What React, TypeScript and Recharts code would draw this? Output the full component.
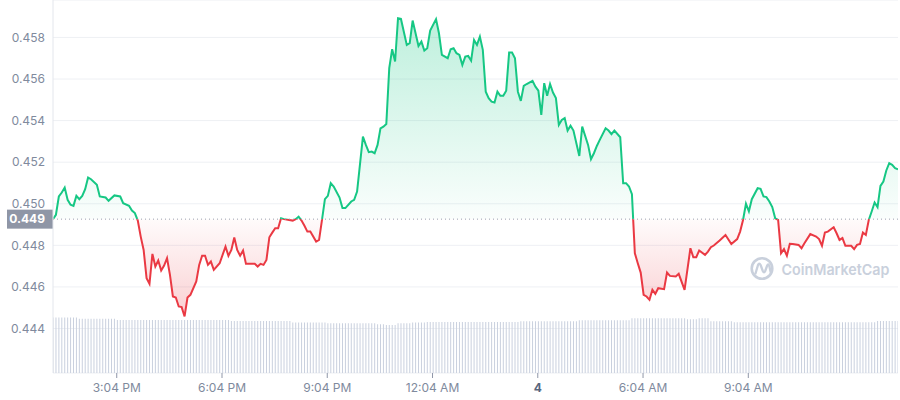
import React from 'react';
import { ComposedChart, Area, Line, Bar, XAxis, YAxis, CartesianGrid, ReferenceLine } from 'recharts';

// [minutes after 13:15 (day 3), price in USD]
const pricePoints: [number, number][] = [
  [0, 0.44926], [5, 0.44947], [10, 0.45035], [15, 0.45054], [20, 0.45078], [25, 0.45019], [30, 0.44995], [35, 0.4499],
  [40, 0.45038], [45, 0.45022], [50, 0.45038], [55, 0.4507], [60, 0.45126], [65, 0.45118], [75, 0.45091], [80, 0.45035],
  [90, 0.4503], [95, 0.45014], [105, 0.4504], [115, 0.45035], [120, 0.45003], [130, 0.4499], [135, 0.44967], [140, 0.44955],
  [145, 0.44919], [150, 0.44842], [155, 0.44778], [160, 0.44642], [165, 0.44615], [170, 0.44759], [175, 0.44698], [180, 0.44727],
  [185, 0.44679], [190, 0.44703], [195, 0.44738], [200, 0.44658], [205, 0.44554], [210, 0.44549], [215, 0.44506], [220, 0.44503],
  [225, 0.44458], [230, 0.44549], [235, 0.44562], [245, 0.44626], [250, 0.44706], [255, 0.4475], [260, 0.4475], [265, 0.44706],
  [270, 0.44722], [275, 0.44682], [285, 0.44714], [295, 0.44794], [300, 0.4475], [305, 0.44778], [310, 0.44838], [315, 0.44778],
  [320, 0.4475], [325, 0.44775], [330, 0.44711], [345, 0.44711], [350, 0.44698], [355, 0.44711], [360, 0.44706], [365, 0.4473],
  [370, 0.44839], [375, 0.44861], [380, 0.44882], [385, 0.44882], [390, 0.4493], [395, 0.44926], [410, 0.44919], [415, 0.44926],
  [420, 0.44938], [425, 0.44919], [430, 0.44894], [435, 0.44866], [440, 0.44866], [450, 0.44818], [455, 0.44826], [460, 0.44922],
  [465, 0.45022], [470, 0.45038], [475, 0.45099], [480, 0.45083], [490, 0.4503], [495, 0.44979], [500, 0.44979], [510, 0.45011],
  [515, 0.45019], [520, 0.45059], [530, 0.45323], [535, 0.45283], [540, 0.45248], [545, 0.45251], [550, 0.45243], [555, 0.45283],
  [560, 0.45363], [565, 0.45371], [570, 0.45384], [575, 0.45652], [580, 0.45743], [585, 0.45684], [590, 0.45892], [595, 0.45889],
  [605, 0.45764], [610, 0.45772], [615, 0.45881], [625, 0.45759], [630, 0.4578], [635, 0.45737], [640, 0.45748], [645, 0.45833],
  [655, 0.45888], [660, 0.4582], [665, 0.45716], [675, 0.457], [680, 0.45743], [685, 0.45748], [690, 0.45724], [695, 0.45716],
  [700, 0.45668], [705, 0.45708], [710, 0.45711], [715, 0.45688], [720, 0.45788], [725, 0.45764], [730, 0.45804], [735, 0.4574],
  [740, 0.45539], [745, 0.45508], [750, 0.45491], [755, 0.45487], [760, 0.45539], [765, 0.45519], [770, 0.45519], [775, 0.45544],
  [780, 0.45727], [785, 0.45727], [790, 0.457], [795, 0.45539], [800, 0.45495], [805, 0.45567], [810, 0.45576], [820, 0.45591],
  [825, 0.45563], [830, 0.45544], [835, 0.45427], [840, 0.4558], [845, 0.45519], [850, 0.45576], [855, 0.45535], [860, 0.45508],
  [865, 0.45379], [870, 0.45403], [875, 0.45412], [880, 0.45352], [885, 0.45375], [890, 0.45352], [900, 0.4523], [905, 0.45371],
  [915, 0.45283], [920, 0.45214], [925, 0.45243], [930, 0.45278], [935, 0.45307], [945, 0.45363], [950, 0.45352], [955, 0.45335],
  [960, 0.45352], [970, 0.4532], [975, 0.45099], [980, 0.45099], [985, 0.45083], [990, 0.45046], [995, 0.44762], [1000, 0.44714],
  [1005, 0.44669], [1010, 0.44562], [1015, 0.44554], [1020, 0.44538], [1025, 0.44586], [1030, 0.44567], [1035, 0.44594], [1045, 0.44589],
  [1050, 0.44669], [1055, 0.44653], [1065, 0.4465], [1070, 0.44663], [1080, 0.44586], [1090, 0.44786], [1095, 0.44743], [1100, 0.44743],
  [1105, 0.44775], [1115, 0.44754], [1120, 0.4477], [1125, 0.44791], [1130, 0.44799], [1140, 0.44823], [1150, 0.4485], [1160, 0.44806],
  [1170, 0.4483], [1175, 0.44866], [1180, 0.44922], [1185, 0.45], [1190, 0.44963], [1195, 0.45022], [1205, 0.45075], [1210, 0.45072],
  [1215, 0.45035], [1220, 0.45032], [1225, 0.45011], [1230, 0.44984], [1235, 0.4493], [1240, 0.44922], [1245, 0.44762], [1250, 0.44782],
  [1255, 0.4475], [1260, 0.44807], [1265, 0.44806], [1275, 0.44802], [1280, 0.44786], [1285, 0.4481], [1295, 0.44854], [1305, 0.44842],
  [1310, 0.4483], [1315, 0.44798], [1320, 0.44862], [1325, 0.44866], [1335, 0.44887], [1340, 0.44858], [1345, 0.44826], [1350, 0.44835],
  [1355, 0.44798], [1365, 0.44798], [1370, 0.44782], [1375, 0.44802], [1380, 0.44807], [1385, 0.44862], [1390, 0.4485], [1395, 0.44922],
  [1400, 0.44963], [1405, 0.45006], [1410, 0.44984], [1415, 0.45086], [1420, 0.45107], [1425, 0.4516], [1430, 0.45195], [1435, 0.45187],
  [1440, 0.45171], [1445, 0.45166],
];

// volume bars, one every 5 minutes from 13:15 (relative units)
const volumeBars: number[] = [
  54.7, 54.7, 54.7, 54.7, 54.7, 54.7, 54.7, 54.7, 54.7,
  53.5, 53.5, 53.5, 53.5, 53.5, 53.5, 53.5, 53.5, 53.5, 53.5, 53.5, 53.5, 53.5,
  52.3, 52.3, 52.3, 52.3, 52.3, 52.3, 52.3, 52.3, 52.3, 52.3,
  52.3, 52.3, 52.3, 52.3, 52.3, 52.3, 52.3, 52.3, 52.3, 52.3,
  52.3, 52.3, 52.3, 52.3, 52.3, 52.3, 52.3, 52.3, 52.3, 52.3,
  52.3, 52.3, 52.3, 52.3, 52.3, 52.3, 52.3, 52.3, 52.3,
  51.3, 51.3, 51.3, 51.3, 51.3, 51.3, 51.3, 51.3, 51.3, 51.3,
  51.3, 51.3, 51.3, 51.3, 51.3, 51.3, 51.3, 51.3, 51.3, 51.3, 51.3,
  49.7, 49.7, 49.7, 49.7, 49.7, 49.7, 49.7, 49.7, 49.7, 49.7, 49.7, 49.7,
  49, 49, 49, 49, 49, 49, 49, 49, 49, 49, 49, 49, 49, 49, 49, 49, 49,
  48, 48, 48,
  47.3, 47.3, 47.3, 47.3,
  49, 49, 49, 49, 49,
  49.7, 49.7, 49.7, 49.7, 49.7,
  50.3, 50.3, 50.3, 50.3, 50.3, 50.3, 50.3, 50.3, 50.3, 50.3,
  50.3, 50.3, 50.3, 50.3, 50.3, 50.3, 50.3, 50.3, 50.3, 50.3,
  50.3, 50.3, 50.3, 50.3, 50.3, 50.3, 50.3, 50.3, 50.3, 50.3, 50.3, 50.3,
  51, 51, 51, 51, 51, 51, 51, 51, 51, 51, 51, 51, 51, 51, 51, 51, 51, 51, 51, 51,
  52, 52, 52, 52, 52, 52, 52, 52, 52, 52, 52, 52, 52, 52, 52, 52, 52, 52,
  54, 54, 54, 54, 54, 54, 54, 54, 54, 54, 54, 54, 54, 54, 54, 54, 54, 54, 54,
  53, 53, 53, 53,
  54, 54, 54, 54,
  51, 51, 51, 51, 51, 51, 51, 51,
  50, 50, 50, 50, 50, 50, 50, 50, 50, 50,
  50, 50, 50, 50, 50, 50, 50, 50, 50, 50,
  50, 50, 50, 50, 50, 50, 50, 50, 50, 50,
  50, 50, 50, 50, 50, 50, 50, 50, 50, 50,
  50, 50, 50, 50, 50, 50, 50, 50, 50,
  51.3, 51.3, 51.3, 51.3, 51.3, 51.3, 51.3, 51.3,
];

const openPrice = 0.44926;
const openPriceLabel = '0.449';
const priceTicks = [0.444, 0.446, 0.448, 0.45, 0.452, 0.454, 0.456, 0.458];
const timeTicks = [109, 289, 469, 649, 829, 1009, 1189];
const timeTickLabels = ['3:04 PM', '6:04 PM', '9:04 PM', '12:04 AM', '4', '6:04 AM', '9:04 AM'];

const GREEN = '#16c784';
const RED = '#ea3943';
const FONT = 'Inter, "Noto Sans", sans-serif';

type Row = { t: number; price?: number; volume?: number };
const rowMap = new Map<number, Row>();
volumeBars.forEach((v, i) => rowMap.set(i * 5, { t: i * 5, volume: v }));
pricePoints.forEach(([t, p]) => {
  const r: Row = rowMap.get(t) ?? { t };
  r.price = p;
  rowMap.set(t, r);
});
const data: Row[] = Array.from(rowMap.values()).sort((a, b) => a.t - b.t);

const prices = pricePoints.map((p) => p[1]);
const maxP = Math.max(...prices);
const minP = Math.min(...prices);
const split = (maxP - openPrice) / (maxP - minP);

const OpenTag = (props: any) => {
  const vb = props.viewBox || {};
  const x = vb.x ?? 0;
  const y = vb.y ?? 0;
  return (
    <g>
      <rect x={x - 46} y={y - 9.5} width={46} height={19} fill="#8f96a6" />
      <text x={x - 8} y={y} dy="0.36em" textAnchor="end" fill="#ffffff" fontWeight={700} fontSize={12} fontFamily={FONT}>
        {openPriceLabel}
      </text>
    </g>
  );
};

const TimeTick = (props: any) => {
  const { x, y, payload } = props;
  const idx = timeTicks.indexOf(payload.value);
  const label = idx >= 0 ? timeTickLabels[idx] : '';
  const bold = label === '4';
  return (
    <text x={x} y={y} dy="0.71em" textAnchor="middle" fill={bold ? '#58667e' : '#808a9d'} fontWeight={bold ? 700 : 400} fontSize={12} fontFamily={FONT}>
      {label}
    </text>
  );
};

export default function App() {
  return (
    <div style={{ position: 'absolute', left: 0, top: 0, width: 900, height: 400, background: '#fff', fontFamily: FONT }}>
      <svg width={900} height={400} style={{ position: 'absolute', left: 0, top: 0 }}>
        <circle cx={762} cy={268.5} r={10.3} fill="none" stroke="#c9d0dc" strokeWidth={2.6} />
        <path
          d="M755.5 273.5 L758 265 Q759.2 262.3 760.6 265 L762.8 271 Q764 273.5 765.2 271 L767.2 265.5 Q768.3 263 769.3 265.8 L770.6 272"
          fill="none"
          stroke="#c9d0dc"
          strokeWidth={2.3}
          strokeLinecap="round"
          strokeLinejoin="round"
        />
        <text x={781.5} y={274.5} fontSize={15} fontWeight={600} fill="#c9d0dc" fontFamily={FONT} textLength={108} lengthAdjust="spacingAndGlyphs">
          CoinMarketCap
        </text>
      </svg>
      <div style={{ position: 'absolute', left: 0, top: 0 }}>
        <ComposedChart width={900} height={400} data={data} margin={{ top: 0, right: 2, bottom: 0, left: 0 }}>
          <defs>
            <linearGradient id="fillSplit" x1="0" y1="0" x2="0" y2="1">
              <stop offset={0} stopColor={GREEN} stopOpacity={0.28} />
              <stop offset={split} stopColor={GREEN} stopOpacity={0.02} />
              <stop offset={split} stopColor={RED} stopOpacity={0.02} />
              <stop offset={1} stopColor={RED} stopOpacity={0.24} />
            </linearGradient>
            <linearGradient id="strokeSplit" x1="0" y1="0" x2="0" y2="1">
              <stop offset={0} stopColor={GREEN} />
              <stop offset={split} stopColor={GREEN} />
              <stop offset={split} stopColor={RED} />
              <stop offset={1} stopColor={RED} />
            </linearGradient>
          </defs>
          <CartesianGrid yAxisId="price" vertical={false} stroke="#eef0f4" />
          <XAxis
            dataKey="t"
            type="number"
            domain={[0, 1445]}
            ticks={timeTicks}
            interval={0}
            allowDataOverflow
            axisLine={false}
            tickLine={{ stroke: '#8f96a8' }}
            tickSize={5}
            tickMargin={5}
            height={27}
            tick={<TimeTick />}
          />
          <YAxis
            yAxisId="price"
            type="number"
            domain={[0.44186, 0.4598]}
            ticks={priceTicks}
            interval={0}
            allowDataOverflow
            width={53}
            axisLine={{ stroke: '#e3e6ec' }}
            tickLine={false}
            tickSize={0}
            tickMargin={8}
            tickFormatter={(v: number) => v.toFixed(3)}
            tick={{ fill: '#808a9d', fontSize: 12, fontFamily: FONT }}
          />
          <YAxis yAxisId="vol" hide domain={[0, 367.3]} />
          <Bar yAxisId="vol" dataKey="volume" fill="#c9d0de" barSize={1} isAnimationActive={false} />
          <Area
            yAxisId="price"
            dataKey="price"
            type="linear"
            baseValue={openPrice}
            fill="url(#fillSplit)"
            fillOpacity={1}
            stroke="none"
            connectNulls
            isAnimationActive={false}
          />
          <Line
            yAxisId="price"
            dataKey="price"
            type="linear"
            stroke="url(#strokeSplit)"
            strokeWidth={2}
            dot={false}
            activeDot={false}
            connectNulls
            isAnimationActive={false}
          />
          <ReferenceLine yAxisId="price" y={openPrice} stroke="#9aa0ae" strokeDasharray="1 3" label={<OpenTag />} />
        </ComposedChart>
      </div>
    </div>
  );
}
